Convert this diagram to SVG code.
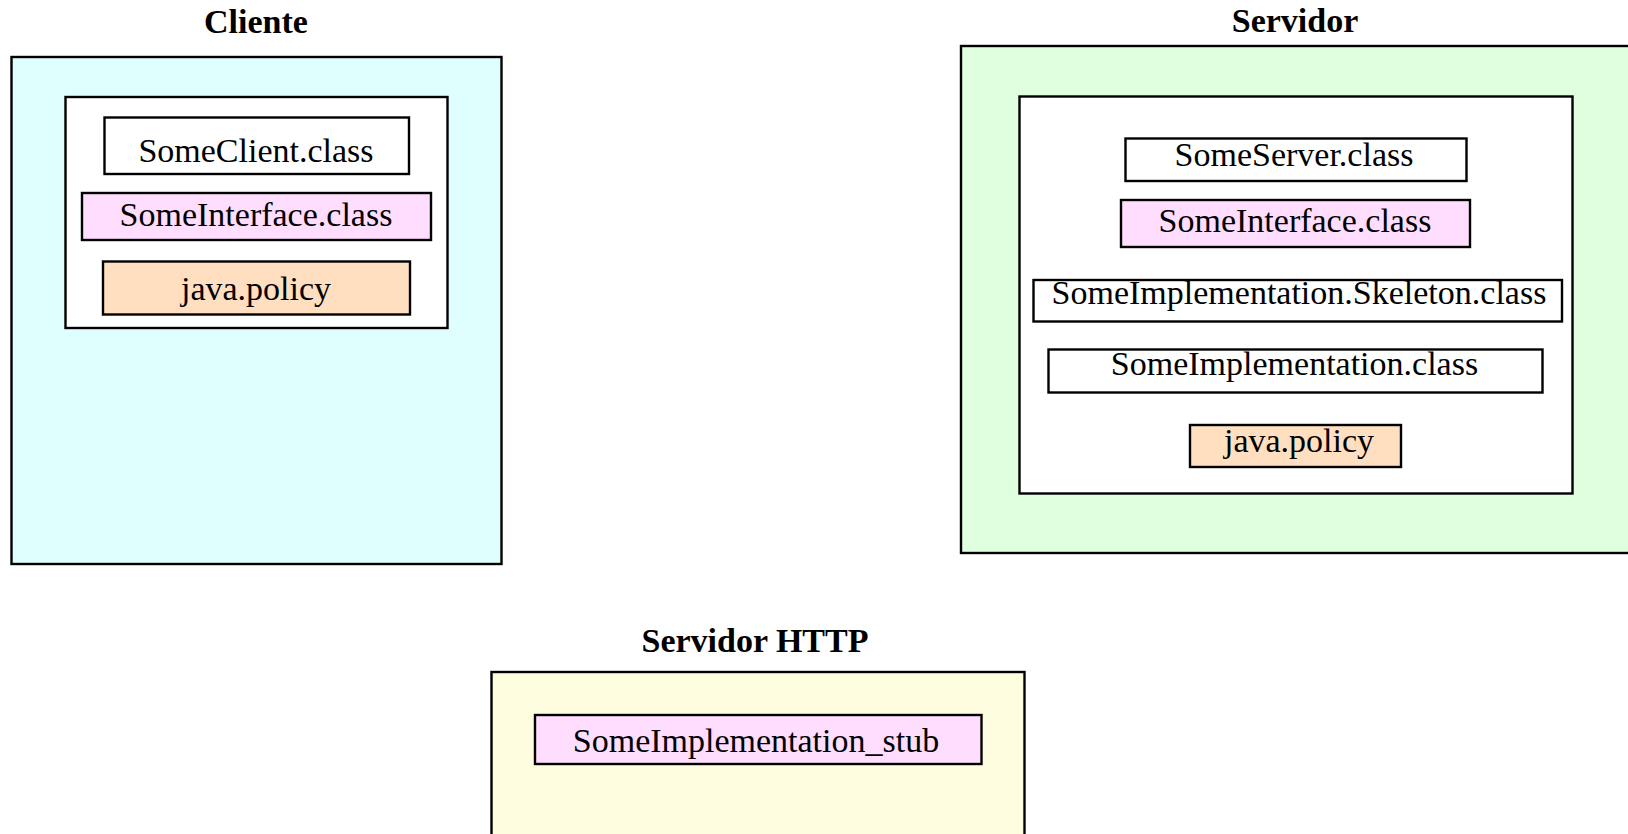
<svg xmlns="http://www.w3.org/2000/svg" width="1628" height="834" viewBox="0 0 1628 834">
  <style>
    .frame { stroke: #000; stroke-width: 2.4; }
    .file { stroke: #000; stroke-width: 2.4; }
    .plain { fill: #FFFFFF; }
    .iface { fill: #FFDDFF; }
    .policy { fill: #FFDFC0; }
    .title { font-family: "Liberation Serif", "Times New Roman", serif; font-weight: bold; font-size: 34px; text-anchor: middle; fill: #000; }
    .label { font-family: "Liberation Serif", "Times New Roman", serif; font-size: 34px; text-anchor: middle; fill: #000; }
  </style>
  <rect width="1628" height="834" fill="#FFFFFF"/>

  <!-- Client machine -->
  <g id="cliente">
    <text class="title" x="256" y="33">Cliente</text>
    <rect class="frame" x="11.5" y="57" width="490" height="507" fill="#DFFFFF"/>
    <rect class="frame plain" x="65.5" y="97" width="382" height="231"/>
    <g id="cliente-someclient">
      <rect class="file plain" x="104.5" y="117.5" width="304.5" height="56.5"/>
      <text class="label" x="256" y="162">SomeClient.class</text>
    </g>
    <g id="cliente-someinterface">
      <rect class="file iface" x="82" y="193" width="349" height="47"/>
      <text class="label" x="256" y="226">SomeInterface.class</text>
    </g>
    <g id="cliente-policy">
      <rect class="file policy" x="103" y="261.5" width="307" height="53"/>
      <text class="label" x="256" y="300">java.policy</text>
    </g>
  </g>

  <!-- Server machine -->
  <g id="servidor">
    <text class="title" x="1295" y="32">Servidor</text>
    <rect class="frame" x="961" y="46" width="680" height="507" fill="#DFFFDF"/>
    <rect class="frame plain" x="1019.5" y="96.5" width="553" height="397"/>
    <g id="servidor-someserver">
      <rect class="file plain" x="1125.5" y="138.5" width="341" height="42.5"/>
      <text class="label" x="1294" y="166">SomeServer.class</text>
    </g>
    <g id="servidor-someinterface">
      <rect class="file iface" x="1121" y="200" width="349" height="47"/>
      <text class="label" x="1295" y="232">SomeInterface.class</text>
    </g>
    <g id="servidor-skeleton">
      <rect class="file plain" x="1033.5" y="280" width="528.5" height="41.5"/>
      <text class="label" x="1299" y="304">SomeImplementation.Skeleton.class</text>
    </g>
    <g id="servidor-someimplementation">
      <rect class="file plain" x="1048.5" y="349.5" width="494" height="43"/>
      <text class="label" x="1294.5" y="375">SomeImplementation.class</text>
    </g>
    <g id="servidor-policy">
      <rect class="file policy" x="1190" y="425" width="211" height="42"/>
      <text class="label" x="1299" y="451.5">java.policy</text>
    </g>
  </g>

  <!-- HTTP server -->
  <g id="servidor-http">
    <text class="title" x="755" y="651.5">Servidor HTTP</text>
    <rect class="frame" x="491.5" y="672" width="533" height="180" fill="#FFFDDF"/>
    <g id="http-stub">
      <rect class="file iface" x="535" y="715" width="446.5" height="49"/>
      <text class="label" x="756" y="751.5">SomeImplementation_stub</text>
    </g>
  </g>

  <g id="connectors"/>
</svg>
